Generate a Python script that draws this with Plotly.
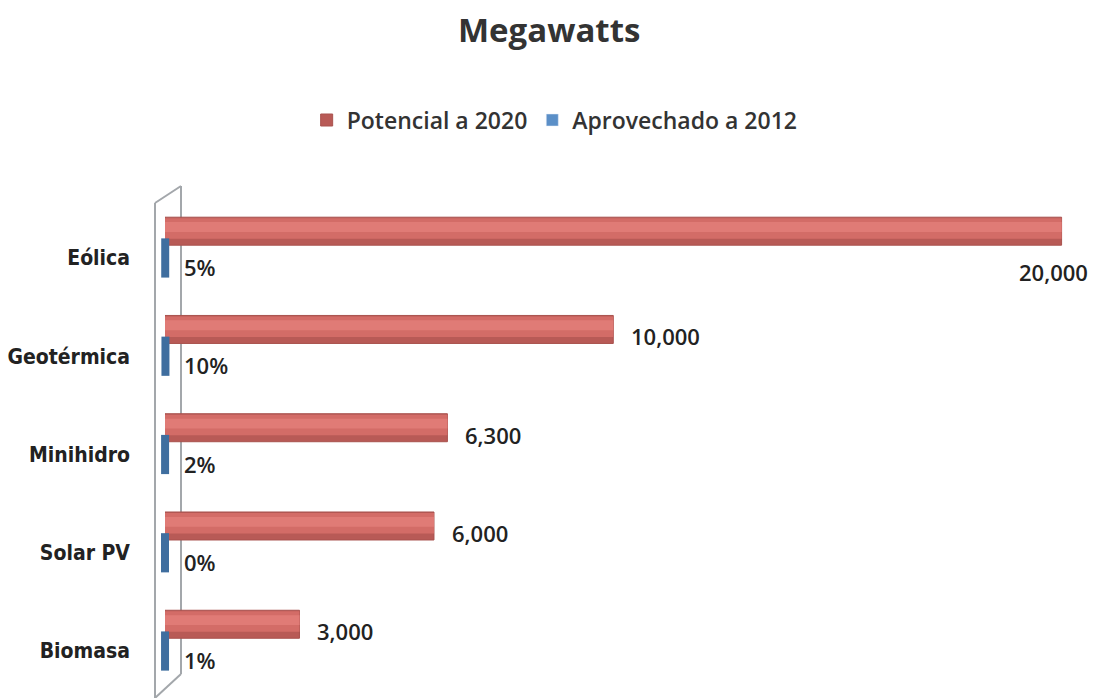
import plotly.graph_objects as go

categorias = ["Eólica", "Geotérmica", "Minihidro", "Solar PV", "Biomasa"]
potencial_2020 = [20000, 10000, 6300, 6000, 3000]
aprovechado_pct = [5, 10, 2, 0, 1]

RED_DARK = "#B85A56"
RED = "#D36C67"
RED_LIGHT = "#E07B76"
RED_LINE = "#A9524E"
BLUE_LEG = "#5B8FC7"
BLUE = "#3F6E9F"

fig = go.Figure()

fig.add_trace(go.Bar(
    y=categorias, x=potencial_2020, orientation="h", name="Potencial a 2020",
    marker=dict(color=RED_DARK, line=dict(color=RED_LINE, width=1)),
    offset=-0.415, width=0.285, hoverinfo="x+y",
))
fig.add_trace(go.Bar(
    y=categorias, x=potencial_2020, orientation="h", showlegend=False,
    marker=dict(color=RED, line=dict(width=0)),
    offset=-0.405, width=0.21, hoverinfo="skip",
))
fig.add_trace(go.Bar(
    y=categorias, x=potencial_2020, orientation="h", showlegend=False,
    marker=dict(color=RED_LIGHT, line=dict(width=0)),
    offset=-0.365, width=0.10, hoverinfo="skip",
))
fig.add_trace(go.Scatter(
    y=categorias, x=aprovechado_pct, mode="markers", name="Aprovechado a 2012",
    marker=dict(symbol="line-ns", size=28, color=BLUE,
                line=dict(color=BLUE, width=8)),
    showlegend=False, hoverinfo="x+y", cliponaxis=False,
))
# legend entry for the blue series (square swatch)
fig.add_trace(go.Bar(
    y=[None], x=[None], orientation="h", name="Aprovechado a 2012",
    marker=dict(color=BLUE_LEG), showlegend=True,
))

lab_font = dict(size=22, color="#222", family="Open Sans, sans-serif", weight=600)
vmax = max(potencial_2020)
annotations = []
for cat, v in zip(categorias, potencial_2020):
    if v == vmax:
        annotations.append(dict(x=v, y=cat, xref="x", yref="y", text=f"{v:,}",
                                showarrow=False, xanchor="right", xshift=28, yshift=-14,
                                font=lab_font))
    else:
        annotations.append(dict(x=v, y=cat, xref="x", yref="y", text=f"{v:,}",
                                showarrow=False, xanchor="left", xshift=16, yshift=20,
                                font=lab_font))
for cat, p in zip(categorias, aprovechado_pct):
    annotations.append(dict(x=p, y=cat, xref="x", yref="y", text=f"{p}%",
                            showarrow=False, xanchor="left", xshift=17, yshift=-9,
                            font=lab_font))

W, H = 1094, 698
ml, mr, mt, mb = 165, 10, 200, 0
pw, ph = W - ml - mr, H - mt - mb
def px(x):
    return (x - ml) / pw
def py(y):
    return (H - mb - y) / ph
wall = "#A3A7AB"
shapes = []
for (x0, y0, x1, y1) in [(155, 203, 155, 700), (181, 186, 181, 674),
                         (155, 203, 181, 186), (155, 698, 181, 674)]:
    shapes.append(dict(type="line", xref="paper", yref="paper",
                       x0=px(x0), y0=py(y0), x1=px(x1), y1=py(y1),
                       line=dict(color=wall, width=2), layer="below"))

fig.update_layout(
    width=W, height=H,
    margin=dict(l=ml, r=mr, t=mt, b=mb, autoexpand=False),
    plot_bgcolor="white", paper_bgcolor="white",
    barmode="overlay",
    font=dict(family="Open Sans, Lato, sans-serif", color="#333"),
    title=dict(text="<b>Megawatts</b>", x=0.502, xref="container", y=0.957,
               yref="container", xanchor="center", yanchor="middle",
               font=dict(size=33, color="#333", family="Open Sans, sans-serif")),
    legend=dict(orientation="h", x=0.507, xref="container", xanchor="center",
                y=0.828, yref="container", yanchor="middle",
                font=dict(size=23, color="#333", weight=600), itemwidth=30,
                traceorder="normal"),
    xaxis=dict(range=[0, 20500], visible=False, showgrid=False, zeroline=False),
    yaxis=dict(range=[4.478, -0.59], type="category", showgrid=False,
               zeroline=False, showline=False, ticks="", automargin=False,
               ticklabelstandoff=34,
               tickfont=dict(size=21, color="#222",
                             family="DejaVu Sans Condensed, Liberation Sans Narrow, sans-serif",
                             weight="bold")),
    annotations=annotations,
    shapes=shapes,
    showlegend=True,
)

fig.write_html("out.html", config={"displayModeBar": False},
               post_script="document.body.style.margin='0';")
